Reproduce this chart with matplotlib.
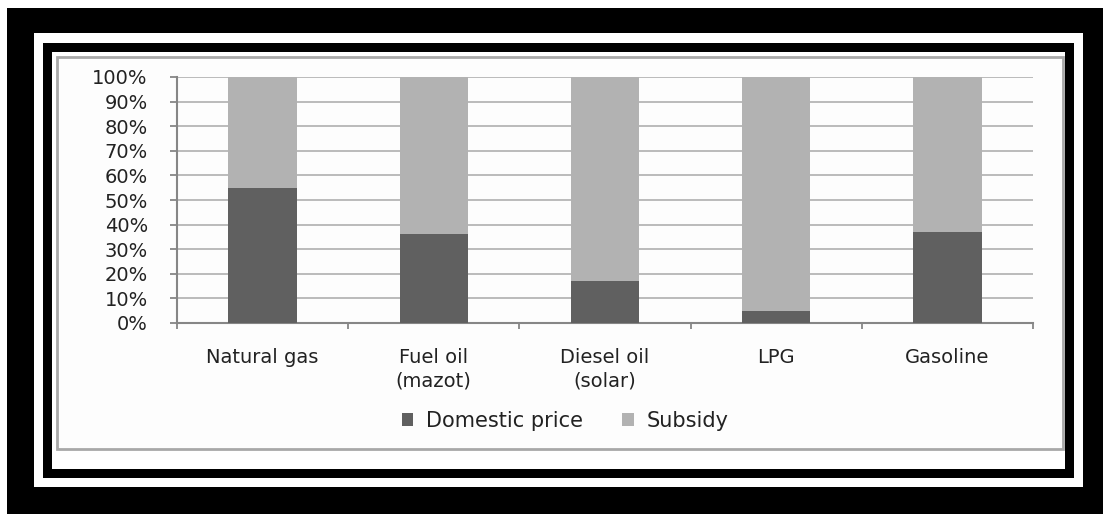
import matplotlib
matplotlib.use("Agg")
import matplotlib.pyplot as plt
from matplotlib.patches import Rectangle, Patch
import numpy as np

categories = ["Natural gas", "Fuel oil\n(mazot)", "Diesel oil\n(solar)", "LPG", "Gasoline"]
domestic_price = [55, 36, 17, 5, 37]
subsidy = [100 - v for v in domestic_price]
ytick_labels = ["0%", "10%", "20%", "30%", "40%", "50%", "60%", "70%", "80%", "90%", "100%"]

W, H = 1103, 516
fig = plt.figure(figsize=(W / 100, H / 100), dpi=100)
fig.patch.set_facecolor("white")


def box(x0, y0, x1, y1, **kw):
    # pixel coords from top-left
    r = Rectangle((x0 / W, 1 - y1 / H), (x1 - x0) / W, (y1 - y0) / H,
                  transform=fig.transFigure, **kw)
    fig.patches.append(r)


box(7, 8, 1103, 514, facecolor="black", edgecolor="none", zorder=-5)
box(34, 33, 1083, 487, facecolor="white", edgecolor="none", zorder=-4)
box(43, 43, 1074, 478, facecolor="black", edgecolor="none", zorder=-3)
box(52, 52, 1065, 469, facecolor="white", edgecolor="none", zorder=-2)
box(57, 57, 1063, 449, facecolor="#fdfdfd", edgecolor="#a8a8a8", linewidth=2.0, zorder=-1)

ax = fig.add_axes([177 / W, (H - 323) / H, (1033 - 177) / W, (323 - 77) / H])
ax.set_zorder(2)
ax.set_facecolor("none")

x = np.arange(len(categories))
dom = np.array(domestic_price) / 100
sub = np.array(subsidy) / 100
ax.bar(x, dom, width=0.40, color="#606060", zorder=3, label="Domestic price")
ax.bar(x, sub, width=0.40, bottom=dom, color="#b2b2b2", zorder=3, label="Subsidy")

ax.set_xlim(-0.5, len(categories) - 0.5)
ax.set_ylim(0, 1)
yt = np.linspace(0, 1, 11)
ax.set_yticks(yt)
ax.set_yticklabels(ytick_labels)
ax.yaxis.grid(True, color="#b0b0b0", linewidth=1.2, zorder=1)
ax.set_axisbelow(True)

ax.set_xticks(x)
ax.set_xticklabels(categories, linespacing=1.3, va="top")
ax.set_xticks(np.arange(-0.5, len(categories), 1.0), minor=True)
ax.tick_params(axis="x", which="major", length=0, pad=18, labelsize=14, labelcolor="#222222")
ax.tick_params(axis="x", which="minor", length=4, width=1.3, color="#868686", direction="out")
ax.tick_params(axis="y", which="major", length=5, width=1.3, color="#868686", direction="out",
               pad=16, labelsize=14, labelcolor="#222222")

for s in ["top", "right"]:
    ax.spines[s].set_visible(False)
for s in ["left", "bottom"]:
    ax.spines[s].set_color("#868686")
    ax.spines[s].set_linewidth(1.5)

handles = [Patch(facecolor="#606060", edgecolor="none", label="Domestic price"),
           Patch(facecolor="#b2b2b2", edgecolor="none", label="Subsidy")]
leg = fig.legend(handles=handles, loc="center", bbox_to_anchor=(565 / W, 1 - 421 / H), ncol=2,
                 frameon=False, fontsize=15, handlelength=0.55, handleheight=0.55,
                 handletextpad=0.6, columnspacing=1.9, labelcolor="#222222")
leg.set_zorder(3)

fig.savefig("out.png", dpi=100, facecolor="white")
